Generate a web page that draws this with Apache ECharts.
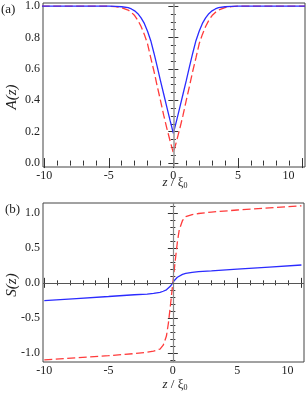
<!DOCTYPE html>
<html>
<head>
<meta charset="utf-8">
<script src="https://cdn.jsdelivr.net/npm/echarts@6/dist/echarts.min.js"></script>
<style>
html,body{margin:0;padding:0;background:#fff;}
#c{width:307px;height:396px;}
</style>
</head>
<body>
<div id="c"></div>
<script>
// ---- Data ----
// Panel (a): A(z)
const zA = [-10.2,-6,-5,-4.5,-4,-3.5,-3.25,-3,-2.75,-2.5,-2.25,-2,-1.75,-1.5,-1.25,-1,-0.75,-0.5,-0.25,0,
            0.25,0.5,0.75,1,1.25,1.5,1.75,2,2.25,2.5,2.75,3,3.25,3.5,4,4.5,5,6,10.2];
const aBlue = [1,1,1,0.999,0.996,0.99,0.982,0.97,0.952,0.925,0.89,0.84,0.78,0.70,0.615,0.525,0.44,0.355,0.27,0.19,
               0.27,0.355,0.44,0.525,0.615,0.70,0.78,0.84,0.89,0.925,0.952,0.97,0.982,0.99,0.996,0.999,1,1,1];
const aRed  = [1,1,1,0.997,0.99,0.975,0.96,0.94,0.91,0.87,0.82,0.76,0.67,0.585,0.49,0.40,0.305,0.22,0.14,0.065,
               0.14,0.22,0.305,0.40,0.49,0.585,0.67,0.76,0.82,0.87,0.91,0.94,0.96,0.975,0.99,0.997,1,1,1];
// Panel (b): S(z)
const zS = [-10,-7.5,-5,-3,-2,-1.5,-1,-0.75,-0.5,-0.35,-0.2,-0.1,0,0.1,0.2,0.35,0.5,0.75,1,1.5,2,3,5,7.5,10];
const sBlue = [-0.255,-0.225,-0.195,-0.17,-0.16,-0.15,-0.135,-0.12,-0.10,-0.08,-0.05,-0.03,0,
               0.03,0.05,0.08,0.10,0.12,0.135,0.15,0.16,0.17,0.195,0.225,0.255];
const sRed  = [-1.10,-1.07,-1.04,-1.01,-0.99,-0.975,-0.945,-0.89,-0.76,-0.58,-0.34,-0.17,0,
               0.17,0.34,0.58,0.76,0.89,0.945,0.975,0.99,1.01,1.04,1.07,1.10];
// Ticks
const xMajor = [-10,-5,0,5,10];
const xMinor = [-10,-9,-8,-7,-6,-5,-4,-3,-2,-1,0,1,2,3,4,5,6,7,8,9,10];
const yAMajor = [0,0.2,0.4,0.6,0.8,1.0];
const yAMinor = [0,0.05,0.1,0.15,0.2,0.25,0.3,0.35,0.4,0.45,0.5,0.55,0.6,0.65,0.7,0.75,0.8,0.85,0.9,0.95,1.0];
const yBMajor = [-1,-0.5,0,0.5,1];
const yBMinor = [-1.1,-1,-0.9,-0.8,-0.7,-0.6,-0.5,-0.4,-0.3,-0.2,-0.1,0,0.1,0.2,0.3,0.4,0.5,0.6,0.7,0.8,0.9,1,1.1];

const SERIF = 'Liberation Serif';
const TICK = '#333';
const xRange = [-10.1, 10.2];
const yARange = [-0.025, 1.02];
const yBRange = [-1.13, 1.14];

function xAxes(gi){
  const base = {gridIndex:gi, type:'value', min:xRange[0], max:xRange[1],
    axisLine:{show:false}, splitLine:{show:false}};
  return [
    Object.assign({}, base, {position:'bottom',
      axisTick:{show:true, inside:true, length:5, customValues:xMajor, lineStyle:{color:TICK}},
      axisLabel:{show:true, customValues:xMajor, margin:3, fontFamily:SERIF, fontSize:12, color:'#222',
        formatter: v => v === 10 ? '{r|10}' : String(v),
        rich:{r:{fontFamily:SERIF, fontSize:12, color:'#222', padding:[0,28,0,0]}}}}),
    Object.assign({}, base, {position:'bottom',
      axisTick:{show:true, inside:true, length:2.5, customValues:xMinor, lineStyle:{color:TICK}},
      axisLabel:{show:false}}),
    Object.assign({}, base, {position:'top',
      axisTick:{show:true, inside:true, length:5, customValues:xMajor, lineStyle:{color:TICK}},
      axisLabel:{show:false}}),
    Object.assign({}, base, {position:'top',
      axisTick:{show:true, inside:true, length:2.5, customValues:xMinor, lineStyle:{color:TICK}},
      axisLabel:{show:false}})
  ];
}
function yAxes(gi, range, major, minor){
  const base = {gridIndex:gi, type:'value', min:range[0], max:range[1],
    axisLine:{show:false}, splitLine:{show:false}};
  return [
    Object.assign({}, base, {position:'left',
      axisTick:{show:true, inside:true, length:5, customValues:major, lineStyle:{color:TICK}},
      axisLabel:{show:true, customValues:major, margin:3, fontFamily:SERIF, fontSize:12, color:'#222',
        formatter: v => v.toFixed(1)}}),
    Object.assign({}, base, {position:'left',
      axisTick:{show:true, inside:true, length:2.5, customValues:minor, lineStyle:{color:TICK}},
      axisLabel:{show:false}}),
    Object.assign({}, base, {position:'right',
      axisTick:{show:true, inside:true, length:5, customValues:major, lineStyle:{color:TICK}},
      axisLabel:{show:false}}),
    Object.assign({}, base, {position:'right',
      axisTick:{show:true, inside:true, length:2.5, customValues:minor, lineStyle:{color:TICK}},
      axisLabel:{show:false}})
  ];
}

const pair = (xs, ys) => xs.map((x,i) => [x, ys[i]]);
const BLUE = '#2b2bff', RED = '#ff3b3b';

const option = {
  animation:false,
  backgroundColor:'#fff',
  grid:[
    {left:43, top:3, width:262, height:164, show:true, borderColor:'#444', borderWidth:1, backgroundColor:'transparent'},
    {left:43, top:203, width:261, height:159, show:true, borderColor:'#444', borderWidth:1, backgroundColor:'transparent'}
  ],
  xAxis: [].concat(xAxes(0), xAxes(1)),
  yAxis: [].concat(yAxes(0, yARange, yAMajor, yAMinor), yAxes(1, yBRange, yBMajor, yBMinor)),
  series:[
    {type:'line', xAxisIndex:0, yAxisIndex:0, data:pair(zA, aRed), showSymbol:false, z:3,
      lineStyle:{color:RED, width:1.3, type:[8,3.5]},
      markLine:{silent:true, symbol:'none', label:{show:false}, animation:false,
        lineStyle:{color:'#999', width:1.5, type:'solid'}, data:[{xAxis:0}]}},
    {type:'line', xAxisIndex:0, yAxisIndex:0, data:pair(zA, aBlue), showSymbol:false, z:4,
      lineStyle:{color:BLUE, width:1.3}},
    {type:'line', xAxisIndex:4, yAxisIndex:4, data:pair(zS, sRed), showSymbol:false, z:3,
      lineStyle:{color:RED, width:1.3, type:[8,3.5]},
      markLine:{silent:true, symbol:'none', label:{show:false}, animation:false,
        data:[{xAxis:0, lineStyle:{color:'#888', width:1.2, type:'solid'}},
              {yAxis:0, lineStyle:{color:'#555', width:1, type:'solid'}}]}},
    {type:'line', xAxisIndex:4, yAxisIndex:4, data:pair(zS, sBlue), showSymbol:false, z:4,
      lineStyle:{color:BLUE, width:1.3}}
  ],
  graphic:[
    {type:'text', left:1, top:3, style:{text:'(a)', font:'13px '+SERIF, fill:'#222'}},
    {type:'text', left:5, top:203, style:{text:'(b)', font:'13px '+SERIF, fill:'#222'}},
    {type:'text', x:12, y:97, rotation:Math.PI/2,
      style:{text:'A(z)', font:'italic 15px '+SERIF, fill:'#222', align:'center', verticalAlign:'middle'}},
    {type:'text', x:12, y:285, rotation:Math.PI/2,
      style:{text:'S(z)', font:'italic 15px '+SERIF, fill:'#222', align:'center', verticalAlign:'middle'}},
    {type:'text', x:175, y:183,
      style:{text:'{i|z} / ξ{s|0}', rich:{i:{fontFamily:SERIF, fontSize:13, fontStyle:'italic', fill:'#222'},
        s:{fontFamily:SERIF, fontSize:8, fill:'#222', verticalAlign:'bottom', padding:[4,0,0,0]}},
        font:'13px '+SERIF, fill:'#222', align:'center', verticalAlign:'middle'}},
    {type:'text', x:175, y:385,
      style:{text:'{i|z} / ξ{s|0}', rich:{i:{fontFamily:SERIF, fontSize:13, fontStyle:'italic', fill:'#222'},
        s:{fontFamily:SERIF, fontSize:8, fill:'#222', verticalAlign:'bottom', padding:[4,0,0,0]}},
        font:'13px '+SERIF, fill:'#222', align:'center', verticalAlign:'middle'}}
  ]
};
const chart = echarts.init(document.getElementById('c'), null, {renderer:'canvas'});
chart.setOption(option);
</script>
</body>
</html>
